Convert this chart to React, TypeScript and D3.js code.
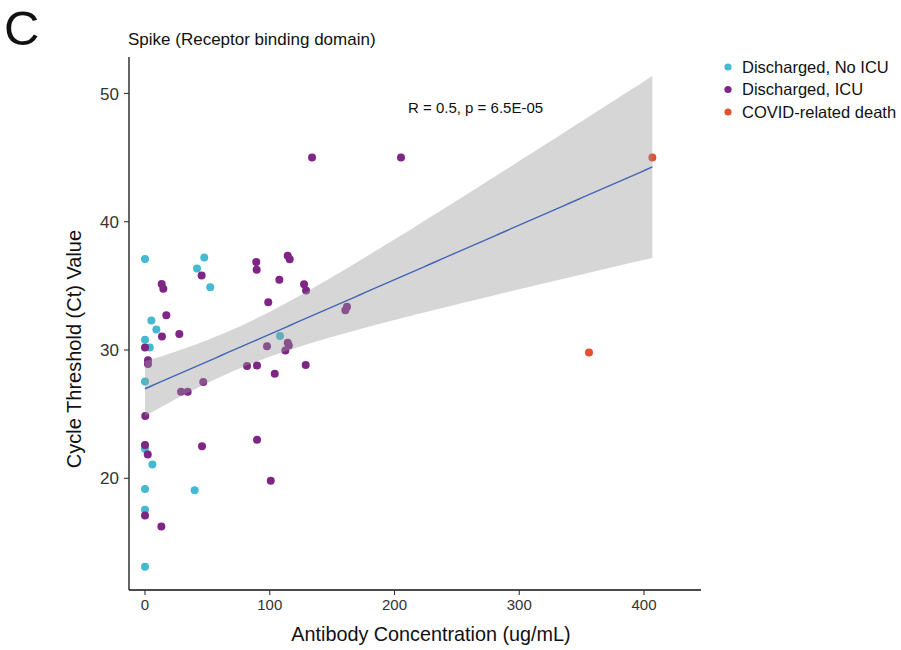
import React from "react";
import * as d3 from "d3";

const groups = ["Discharged, No ICU", "Discharged, ICU", "COVID-related death"];
const groupColors = ["#45B9D2", "#7E2585", "#E0512F"];

const noIcuX = [0, 47.5, 41.7, 52.3, 5.1, 9.1, 0, 3.8, 0, 0, 5.9, 0, 39.8, 0, 0, 108.2];
const noIcuY = [37.1, 37.2, 36.35, 34.9, 32.3, 31.6, 30.8, 30.2, 27.55, 22.3, 21.07, 19.16, 19.06, 17.55, 13.1, 31.1];

const icuX = [45.4, 13.4, 14.7, 17.1, 13.6, 27.5, 0, 2.4, 2.4, 28.9, 34.2, 46.7, 0.2, 0, 45.7, 2.2, 0, 13.1,
  89.2, 89.5, 114.4, 116, 107.7, 127.5, 129.1, 98.8, 161.9, 160.6, 114.4, 115.3, 97.8, 112.5, 81.8, 89.8, 128.8, 104, 89.8, 100.8,
  133.9, 205.2];
const icuY = [35.8, 35.15, 34.77, 32.7, 31.05, 31.25, 30.2, 29.2, 28.9, 26.74, 26.74, 27.5, 24.85, 22.6, 22.5, 21.85, 17.1, 16.25,
  36.85, 36.25, 37.34, 37.08, 35.47, 35.13, 34.63, 33.72, 33.38, 33.1, 30.57, 30.35, 30.3, 29.97, 28.75, 28.8, 28.83, 28.15, 23, 19.8,
  45.0, 45.0];

const deathX = [406.7, 355.9];
const deathY = [45.0, 29.8];

const xTicks = [0, 100, 200, 300, 400];
const yTicks = [20, 30, 40, 50];

const FONT = "'Liberation Sans', Arial, Helvetica, sans-serif";

export default function App() {
  const width = 901;
  const height = 650;
  const x = d3.scaleLinear().domain([0, 400]).range([145, 644]);
  const y = d3.scaleLinear().domain([30, 40]).range([350, 221.7]);
  const xLeft = 129;
  const xRight = 701;
  const yBottom = 590;
  const yTop = 57;

  const series = [
    { xs: noIcuX, ys: noIcuY, color: groupColors[0] },
    { xs: icuX, ys: icuY, color: groupColors[1] },
    { xs: deathX, ys: deathY, color: groupColors[2] },
  ];
  const pts: { x: number; y: number; color: string }[] = [];
  series.forEach((s) => s.xs.forEach((v, i) => pts.push({ x: v, y: s.ys[i], color: s.color })));

  // linear regression + 95% CI
  const n = pts.length;
  const mx = d3.mean(pts, (p) => p.x) as number;
  const my = d3.mean(pts, (p) => p.y) as number;
  const sxx = d3.sum(pts, (p) => (p.x - mx) ** 2);
  const sxy = d3.sum(pts, (p) => (p.x - mx) * (p.y - my));
  const b = sxy / sxx;
  const a = my - b * mx;
  const sse = d3.sum(pts, (p) => (p.y - a - b * p.x) ** 2);
  const s = Math.sqrt(sse / (n - 2));
  const tq = 2.003;
  const xmin = d3.min(pts, (p) => p.x) as number;
  const xmax = d3.max(pts, (p) => p.x) as number;
  const grid = d3.range(0, 81).map((i) => xmin + ((xmax - xmin) * i) / 80);
  const band = grid.map((gx) => {
    const fit = a + b * gx;
    const se = s * Math.sqrt(1 / n + (gx - mx) ** 2 / sxx);
    return { gx, lo: fit - tq * se, hi: fit + tq * se, fit };
  });
  const area = d3
    .area<{ gx: number; lo: number; hi: number }>()
    .x((d) => x(d.gx))
    .y0((d) => y(d.lo))
    .y1((d) => y(d.hi));
  const line = d3
    .line<{ gx: number; fit: number }>()
    .x((d) => x(d.gx))
    .y((d) => y(d.fit));

  return (
    <svg width={width} height={height} style={{ position: "absolute", left: 0, top: 0, background: "#fff" }} fontFamily={FONT}>
      <rect x={0} y={0} width={width} height={height} fill="#fff" />
      <text x={4} y={45} fontSize={49} fill="#111">C</text>
      <text x={128} y={45} fontSize={17} fill="#111">Spike (Receptor binding domain)</text>

      {pts.map((p, i) => (
        <circle key={i} cx={x(p.x)} cy={y(p.y)} r={4} fill={p.color} />
      ))}
      <path d={area(band) || ""} fill="#999" fillOpacity={0.4} />
      <path d={line(band) || ""} fill="none" stroke="#4465B5" strokeWidth={1.4} />

      <text x={408} y={113} fontSize={15} fill="#111">R = 0.5, p = 6.5E-05</text>

      {/* axes */}
      <line x1={xLeft} x2={xLeft} y1={yTop} y2={yBottom} stroke="#111" strokeWidth={1.3} />
      <line x1={xLeft} x2={xRight} y1={yBottom} y2={yBottom} stroke="#111" strokeWidth={1.3} />
      {yTicks.map((t) => (
        <g key={t}>
          <line x1={xLeft - 5} x2={xLeft} y1={y(t)} y2={y(t)} stroke="#333" strokeWidth={1.1} />
          <text x={xLeft - 10} y={y(t)} dy="0.36em" textAnchor="end" fontSize={17} fill="#333">{t}</text>
        </g>
      ))}
      {xTicks.map((t) => (
        <g key={t}>
          <line x1={x(t)} x2={x(t)} y1={yBottom} y2={yBottom + 5} stroke="#333" strokeWidth={1.1} />
          <text x={x(t)} y={yBottom + 20} textAnchor="middle" fontSize={15} fill="#333">{t}</text>
        </g>
      ))}
      <text x={431} y={641} textAnchor="middle" fontSize={19.8} fill="#111">Antibody Concentration (ug/mL)</text>
      <text transform={`translate(81, 349) rotate(-90)`} textAnchor="middle" fontSize={20} fill="#111">Cycle Threshold (Ct) Value</text>

      {groups.map((g, i) => (
        <g key={g}>
          <circle cx={728} cy={67 + i * 22.5} r={3.6} fill={groupColors[i]} />
          <text x={742} y={67 + i * 22.5} dy="0.36em" fontSize={16.5} fill="#111">{g}</text>
        </g>
      ))}
    </svg>
  );
}
